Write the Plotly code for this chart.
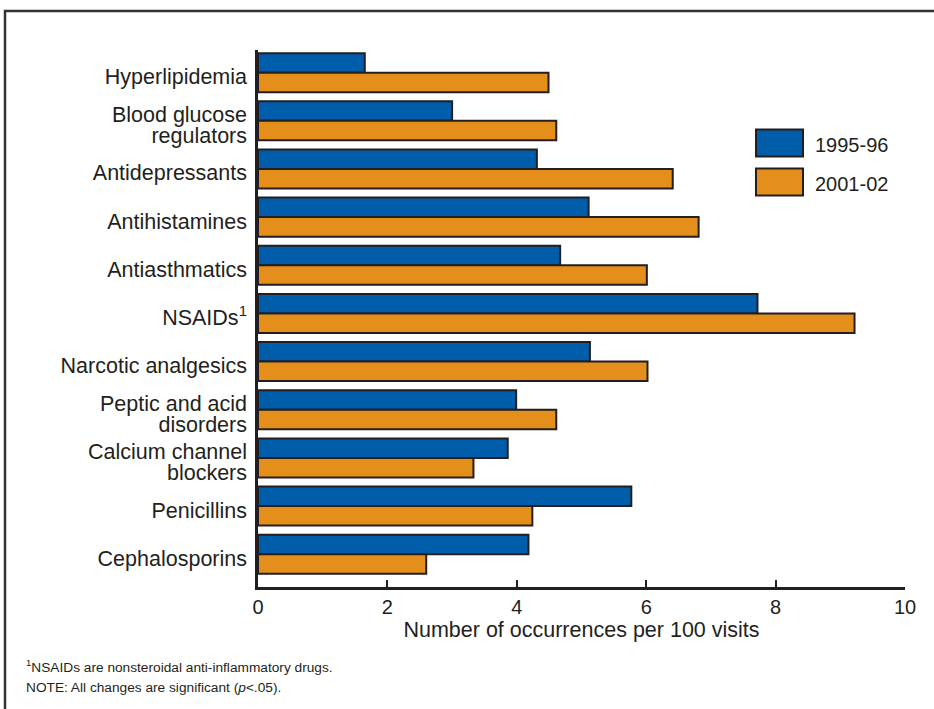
import plotly.graph_objects as go

categories = ["Hyperlipidemia", "Blood glucose|regulators", "Antidepressants",
              "Antihistamines", "Antiasthmatics", "NSAIDs<sup>1</sup>",
              "Narcotic analgesics", "Peptic and acid|disorders",
              "Calcium channel|blockers", "Penicillins", "Cephalosporins"]
series_names = ["1995-96", "2001-02"]
values_1995 = [1.65, 3.00, 4.31, 5.11, 4.67, 7.72, 5.13, 3.99, 3.86, 5.77, 4.18]
values_2001 = [4.49, 4.61, 6.41, 6.81, 6.01, 9.22, 6.02, 4.61, 3.33, 4.24, 2.60]
x_ticks = [0, 2, 4, 6, 8, 10]

colors = ["#005DAA", "#E48E1C"]
edge = "#231F20"
font_family = "Liberation Sans, Arial, Helvetica, sans-serif"

LABEL_SIZE = 21.5
BASE_SIZE = 15.8  # sets line spacing of the two-line labels (1.3 x base)


def fmt_label(c):
    return "<br>".join('<span style="font-size:%spx">%s</span>' % (LABEL_SIZE, part)
                       for part in c.split("|"))


ticktext = [fmt_label(c) for c in categories]
n = len(categories)

fig = go.Figure()
for name, vals, col in zip(series_names, [values_1995, values_2001], colors):
    fig.add_trace(go.Bar(
        y=categories, x=vals, name=name, orientation="h",
        marker=dict(color=col, line=dict(color=edge, width=2)),
        showlegend=False,
    ))
# invisible helper trace so that the label axis (y2) is drawn
fig.add_trace(go.Scatter(x=[None] * n, y=list(range(n)), yaxis="y2", mode="markers",
                         marker=dict(opacity=0), hoverinfo="skip", showlegend=False))

W, H = 934, 709
L, R, T, B = 258, 29, 50, 122
pw, ph = W - L - R, H - T - B
RANGE = [n - 1 + 0.68, -0.47]
per_cat = ph / (RANGE[0] - RANGE[1])
label_shift = 6 / per_cat  # labels sit a few pixels below the group centres


def px(x):
    return (x - L) / pw


def py(y):
    return (H - B - y) / ph


shapes = [
    dict(type="rect", xref="paper", yref="paper",
         x0=px(5), x1=px(945), y0=py(720), y1=py(11),
         line=dict(color="#333333", width=2.5), layer="below"),
]
annotations = []
for i, (name, col) in enumerate(zip(series_names, colors)):
    top = 129.5 + i * 39
    shapes.append(dict(type="rect", xref="paper", yref="paper",
                       x0=px(756), x1=px(803), y0=py(top + 27), y1=py(top),
                       fillcolor=col, line=dict(color=edge, width=2)))
    annotations.append(dict(xref="paper", yref="paper", x=px(813), y=py(top + 15),
                            text=name, showarrow=False, xanchor="left", yanchor="middle",
                            font=dict(size=20, color=edge, family=font_family)))
annotations.append(dict(xref="paper", yref="paper", x=px(24), y=py(655),
                        text="<sup>1</sup>NSAIDs are nonsteroidal anti-inflammatory drugs.",
                        showarrow=False, xanchor="left", yanchor="top",
                        font=dict(size=13.7, color=edge, family=font_family)))
annotations.append(dict(xref="paper", yref="paper", x=px(24), y=py(678),
                        text="NOTE: All changes are significant (<i>p</i>&lt;.05).",
                        showarrow=False, xanchor="left", yanchor="top",
                        font=dict(size=13.7, color=edge, family=font_family)))

fig.update_layout(
    width=W, height=H,
    margin=dict(l=L, r=R, t=T, b=B, pad=0),
    paper_bgcolor="white", plot_bgcolor="white",
    barmode="group", bargap=0.19, bargroupgap=0,
    font=dict(family=font_family, size=18, color=edge),
    shapes=shapes, annotations=annotations,
    xaxis=dict(range=[0, 10], tickvals=x_ticks, ticks="inside", ticklen=7,
               tickwidth=2, tickcolor=edge, showline=True, linecolor=edge, linewidth=2.5,
               showgrid=False, zeroline=False, ticklabelstandoff=0,
               title=dict(text="Number of occurrences per 100 visits", standoff=3,
                          font=dict(size=21.5)),
               tickfont=dict(size=20)),
    yaxis=dict(range=RANGE, type="category", showline=True, linecolor=edge,
               linewidth=2.5, showgrid=False, ticks="", showticklabels=False),
    yaxis2=dict(overlaying="y", side="left", anchor="x", type="linear",
                range=[RANGE[0] - label_shift, RANGE[1] - label_shift],
                tickvals=list(range(n)), ticktext=ticktext, ticks="",
                showline=False, showgrid=False, zeroline=False,
                ticklabelstandoff=10, tickfont=dict(size=BASE_SIZE, color=edge)),
)

fig.write_html("out.html", config={"displayModeBar": False},
               post_script="document.body.style.margin='0px';")
